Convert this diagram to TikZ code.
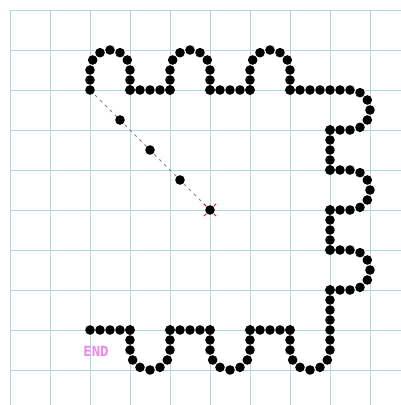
\documentclass[tikz,border=0pt]{standalone}
\usepackage{fontspec}
\newfontfamily\endfont{DejaVu Sans Mono}
\usetikzlibrary{positioning}
\definecolor{gridblue}{HTML}{B4D6DE}
\definecolor{endpink}{HTML}{EE82EE}
\newcommand\turtledot[2]{\fill ({#1},{#2}) circle[radius=4.8];}

\begin{document}
\begin{tikzpicture}[x=1pt,y=-1pt,
  gridline/.style={draw=gridblue,line width=1pt},
  trail/.style={draw=gray,line width=0.9pt,dash pattern=on 3pt off 4pt},
  tick/.style={draw=red,line width=0.9pt},
  homedot/.style={circle,fill=black,inner sep=0pt,minimum size=9.6pt}]
\useasboundingbox (0,0) rectangle (401,405);
% grid
\foreach \g in {10,50,...,370} {
  \draw[gridline] (\g,10) -- (\g,405);
  \draw[gridline] (10,\g) -- (401,\g);
}
% trail from the centre to the start
\coordinate (start) at (90,90);
\node[homedot] (home) at (210,210) {};
\draw[trail] (start) -- (home);
\foreach \s in {120,150,180} {\turtledot{\s}{\s}}
\foreach \a in {45,135,225,315}
  \draw[tick] ([shift={(\a:5.5pt)}]home.center) -- ([shift={(\a:8.5pt)}]home.center);
% straight runs: x/y/dx/dy/steps
\foreach \px/\py/\dx/\dy/\n in {90/90/0/-10/2, 130/70/0/10/2, 130/90/10/0/4,
    170/90/0/-10/2, 210/70/0/10/2, 210/90/10/0/4, 250/90/0/-10/2,
    290/70/0/10/2, 290/90/10/0/6, 350/130/-10/0/2, 330/130/0/10/4,
    330/170/10/0/2, 350/210/-10/0/2, 330/210/0/10/4, 330/250/10/0/2,
    350/290/-10/0/2, 330/290/0/10/6, 290/350/0/-10/2, 290/330/-10/0/4,
    250/330/0/10/2, 210/350/0/-10/2, 210/330/-10/0/4, 170/330/0/10/2,
    130/350/0/-10/2, 130/330/-10/0/4}
  {\foreach \i in {0,...,\n} {\turtledot{\px+\i*\dx}{\py+\i*\dy}}}
% bumps: centre/start angle
\foreach \cx/\cy/\a in {110/70/180, 190/70/180, 270/70/180,
    350/110/270, 350/190/270, 350/270/270,
    310/350/0, 230/350/0, 150/350/0}
  {\foreach \t in {1,...,5} {\turtledot{\cx+20*cos(\a+30*\t)}{\cy+20*sin(\a+30*\t)}}}
\node[text=endpink,font=\endfont\bfseries\fontsize{14pt}{16pt}\selectfont] (endlabel) at (96,351) {END};
\end{tikzpicture}
\end{document}
